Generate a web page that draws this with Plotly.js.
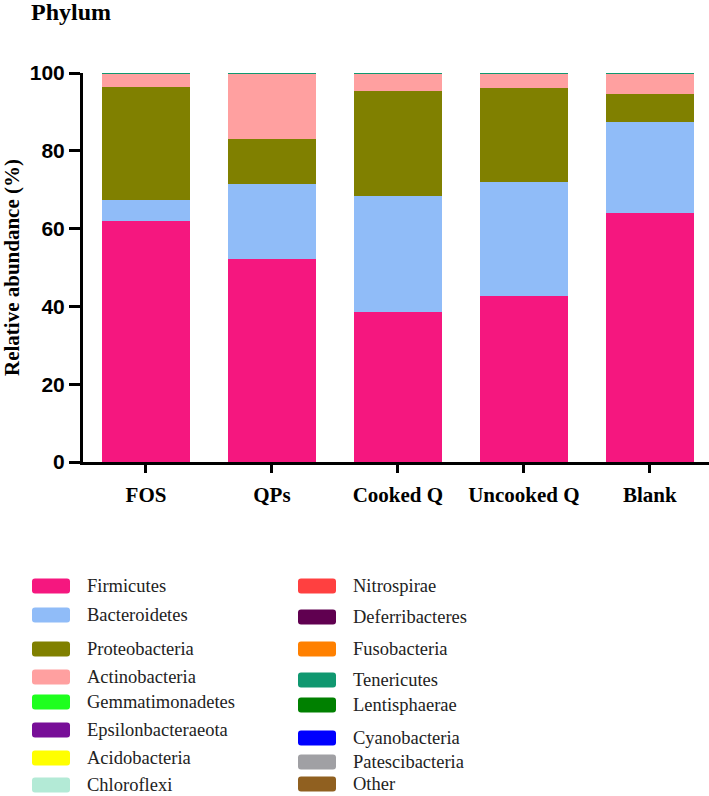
<!DOCTYPE html>
<html>
<head>
<meta charset="utf-8">
<script src="https://cdn.plot.ly/plotly-3.0.1.min.js"></script>
<style>html,body{margin:0;padding:0;background:#fff;}#chart{width:709px;height:796px;}</style>
</head>
<body>
<div id="chart"></div>
<script>
var categories = ["FOS", "QPs", "Cooked Q", "Uncooked Q", "Blank"];
var phyla = ["Firmicutes", "Bacteroidetes", "Proteobacteria", "Actinobacteria", "Gemmatimonadetes",
  "Epsilonbacteraeota", "Acidobacteria", "Chloroflexi", "Nitrospirae", "Deferribacteres",
  "Fusobacteria", "Tenericutes", "Lentisphaerae", "Cyanobacteria", "Patescibacteria", "Other"];
var colors = ["#F5177F", "#90BCF8", "#808000", "#FFA0A0", "#1EFF1E",
  "#780F98", "#FFFF00", "#B3EAD6", "#FF4040", "#600050",
  "#FF8000", "#109870", "#008000", "#0000FF", "#A0A0A4", "#906020"];
var firmicutes = [61.9, 52.2, 38.6, 42.7, 64.0];
var bacteroidetes = [5.4, 19.3, 29.8, 29.3, 23.4];
var proteobacteria = [29.0, 11.5, 26.9, 24.1, 7.2];
var actinobacteria = [3.4, 16.7, 4.4, 3.6, 5.1];
var gemmatimonadetes = [0.05, 0.05, 0.05, 0.05, 0.05];
var epsilonbacteraeota = [0.02, 0.02, 0.02, 0.02, 0.02];
var acidobacteria = [0.02, 0.02, 0.02, 0.02, 0.02];
var chloroflexi = [0.02, 0.02, 0.02, 0.02, 0.02];
var nitrospirae = [0.01, 0.01, 0.01, 0.01, 0.01];
var deferribacteres = [0.02, 0.02, 0.02, 0.02, 0.02];
var fusobacteria = [0.02, 0.02, 0.02, 0.02, 0.02];
var tenericutes = [0.03, 0.03, 0.03, 0.03, 0.03];
var lentisphaerae = [0.01, 0.01, 0.01, 0.01, 0.01];
var cyanobacteria = [0.02, 0.02, 0.02, 0.02, 0.02];
var patescibacteria = [0.02, 0.02, 0.02, 0.02, 0.02];
var other = [0.04, 0.04, 0.04, 0.04, 0.04];
var series = [firmicutes, bacteroidetes, proteobacteria, actinobacteria, gemmatimonadetes,
  epsilonbacteraeota, acidobacteria, chloroflexi, nitrospirae, deferribacteres,
  fusobacteria, tenericutes, lentisphaerae, cyanobacteria, patescibacteria, other];

var W = 709, H = 796, L = 83, T = 73, B = 462;
var plotH = B - T, plotW = W - L;
function px(x) { return (x - L) / plotW; }
function py(y) { return (B - y) / plotH; }

var traces = series.map(function (vals, i) {
  return {
    type: "bar", x: categories, y: vals, name: phyla[i],
    marker: { color: colors[i], line: { width: 0 } },
    width: 0.7, showlegend: false, hoverinfo: "skip"
  };
});

// manual two-column legend
var rowY1 = [586, 615, 649, 677, 702, 730, 758, 785];
var rowY2 = [586, 617, 649, 680, 705, 738, 762, 784];
var shapes = [], annotations = [];
phyla.forEach(function (name, i) {
  var col = i < 8 ? 0 : 1;
  var r = i % 8;
  var yc = col === 0 ? rowY1[r] : rowY2[r];
  var x0 = col === 0 ? 32 : 298, x1 = x0 + 38;
  var tx = col === 0 ? 85 : 351;
  var y0 = yc - 7.5, y1 = yc + 7.5, rr = 3;
  var X0 = px(x0), X1 = px(x1), Y0 = py(y1), Y1 = py(y0);
  var rx = rr / plotW, ry = rr / plotH;
  shapes.push({
    type: "path", xref: "paper", yref: "paper",
    path: "M" + (X0 + rx) + "," + Y0 + " L" + (X1 - rx) + "," + Y0 +
      " Q" + X1 + "," + Y0 + " " + X1 + "," + (Y0 + ry) +
      " L" + X1 + "," + (Y1 - ry) + " Q" + X1 + "," + Y1 + " " + (X1 - rx) + "," + Y1 +
      " L" + (X0 + rx) + "," + Y1 + " Q" + X0 + "," + Y1 + " " + X0 + "," + (Y1 - ry) +
      " L" + X0 + "," + (Y0 + ry) + " Q" + X0 + "," + Y0 + " " + (X0 + rx) + "," + Y0 + " Z",
    fillcolor: colors[i], line: { width: 0 }
  });
  annotations.push({
    xref: "paper", yref: "paper", x: px(tx), y: py(yc), xanchor: "left", yanchor: "middle",
    text: name, showarrow: false,
    font: { family: "Liberation Serif, Times New Roman, serif", size: 18.5, color: "#222" }
  });
});
annotations.push({
  xref: "paper", yref: "paper", x: px(29), y: py(12), xanchor: "left", yanchor: "middle",
  text: "<b>Phylum</b>", showarrow: false,
  font: { family: "Liberation Serif, Times New Roman, serif", size: 24, color: "#000" }
});

var layout = {
  width: W, height: H,
  margin: { l: L, r: 0, t: T, b: H - B, pad: 0 },
  paper_bgcolor: "#fff", plot_bgcolor: "#fff",
  barmode: "stack", bargap: 0.3,
  xaxis: {
    range: [-0.5, 4.47], showgrid: false, zeroline: false,
    showline: true, linecolor: "#000", linewidth: 3,
    ticks: "outside", ticklen: 8, tickwidth: 3, tickcolor: "#000",
    ticklabelstandoff: 4,
    tickfont: { family: "Liberation Serif, Times New Roman, serif", size: 21, color: "#000", weight: "bold" },
    fixedrange: true
  },
  yaxis: {
    range: [0, 100], tickvals: [0, 20, 40, 60, 80, 100],
    showgrid: false, zeroline: false,
    showline: true, linecolor: "#000", linewidth: 3,
    ticks: "outside", ticklen: 11, tickwidth: 3, tickcolor: "#000",
    tickfont: { family: "Liberation Sans, Arial, sans-serif", size: 21, color: "#000", weight: "bold" },
    title: { text: "<b>Relative abundance (%)</b>", standoff: 10,
      font: { family: "Liberation Serif, Times New Roman, serif", size: 21, color: "#000" } },
    fixedrange: true
  },
  shapes: shapes,
  annotations: annotations
};

Plotly.newPlot("chart", traces, layout, { displayModeBar: false, staticPlot: true });
</script>
</body>
</html>
